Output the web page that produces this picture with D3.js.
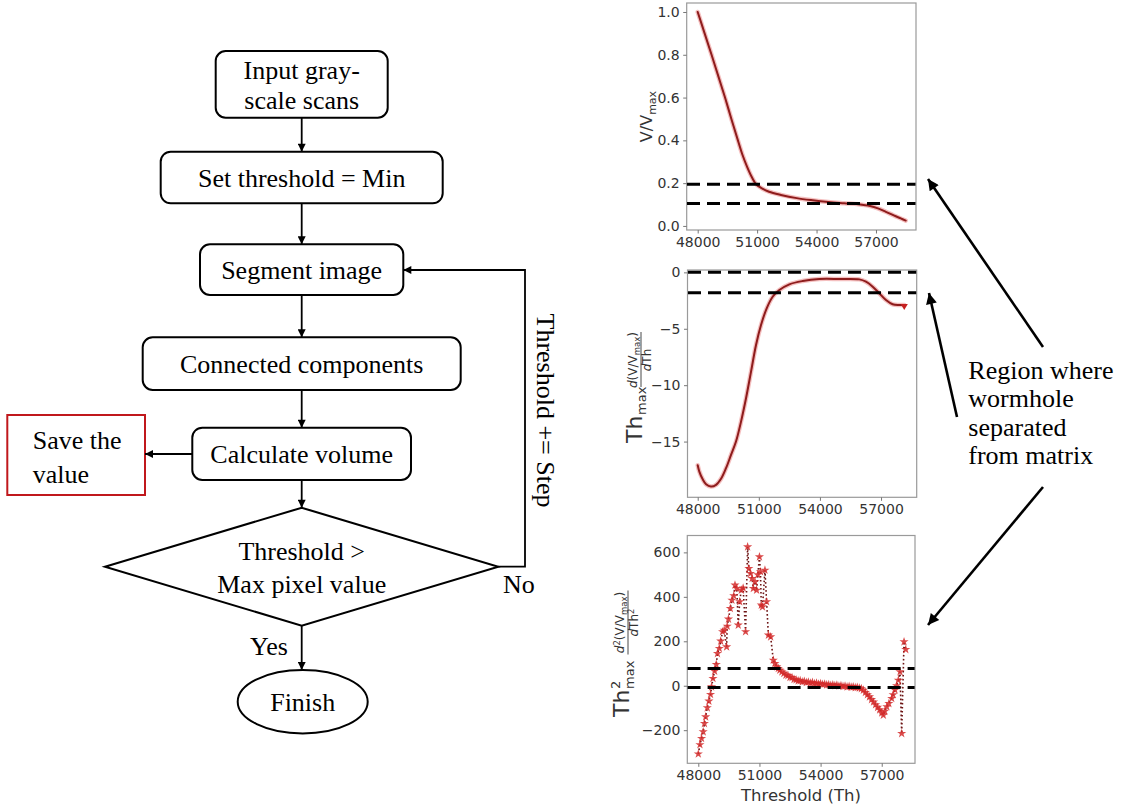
<!DOCTYPE html>
<html><head><meta charset="utf-8">
<script src="https://cdn.jsdelivr.net/npm/d3@7"></script>
<style>body{margin:0;background:#fff}</style>
</head><body>
<svg id="c" width="1125" height="809" xmlns="http://www.w3.org/2000/svg"></svg>
<script>
// ---------------- DATA ----------------
const xTicks = [48000, 51000, 54000, 57000];

// Panel 1: normalised volume V/Vmax vs threshold
const p1Threshold = [48000,48350,48700,49040,49380,49700,50030,50250,50500,50750,50950,51200,51600,52200,53000,53800,54600,55400,56100,56700,57100,57500,57900,58250,58500];
const p1Volume    = [1.0,0.90,0.80,0.70,0.60,0.50,0.40,0.335,0.275,0.225,0.195,0.178,0.16,0.145,0.13,0.12,0.112,0.106,0.101,0.093,0.082,0.066,0.049,0.035,0.025];
const p1YTicks = [0.0,0.2,0.4,0.6,0.8,1.0];
const p1Levels = [0.195, 0.105];

// Panel 2: first derivative
const p2Threshold = [48000,48080,48245,48410,48650,48900,49145,49390,49636,49880,50127,50372,50618,50863,51108,51387,51680,52008,52500,53150,53970,54950,55935,56260,56590,56916,57243,57570,57900,58140];
const p2Deriv     = [-17.1,-17.66,-18.34,-18.78,-18.99,-18.84,-18.3,-17.36,-16.18,-15.0,-13.23,-11.16,-8.8,-6.44,-4.67,-3.19,-2.16,-1.57,-1.06,-0.77,-0.59,-0.59,-0.62,-0.83,-1.27,-1.86,-2.45,-2.83,-2.89,-2.89];
const p2YTicks = [-15,-10,-5,0];
const p2Levels = [0, -1.8];

// Panel 3: second derivative
const p3Threshold = [48000,48080,48160,48240,48300,48360,48440,48520,48600,48650,48720,48800,48880,48940,49030,49100,49190,49270,49390,49420,49480,49570,49650,49740,49800,49890,49960,50030,50110,50200,50320,50420,50480,50560,50640,50700,50780,50860,50920,51000,51050,51090,51150,51270,51350,51440,51550,51680,51760,51850,51926,52000,52100,52200,52300,52400,52500,52600,52700,52800,52900,53000,53100,53200,53300,53400,53500,53600,53700,53800,53900,54000,54100,54200,54300,54400,54500,54600,54700,54800,54900,55000,55100,55200,55300,55400,55500,55600,55700,55800,55900,56000,56100,56200,56300,56400,56500,56600,56700,56800,56900,57000,57080,57150,57250,57350,57490,57560,57650,57730,57816,57898,57980,58095,58180];
const p3Deriv2    = [-307,-265,-237,-207,-170,-140,-99,-69,-39,-5,33,66,96,145,168,201,243,250,175,268,300,348,385,405,453,438,273,378,430,440,243,625,528,505,483,438,468,430,500,580,513,363,355,520,378,228,220,115,100,85,78,70,62,56,48,46,38,37,29,27,22,23,18,20,15,17,12,15,10,12,8,10,6,8,4,5,2,4,1,3,-1,1,-3,-1,-5,-3,-6,-5,-8,-7,-10,-13,-20,-30,-40,-50,-62,-73,-85,-97,-108,-122,-132,-115,-94,-80,-57,-40,-19,0,25,63,-215,198,163];
const p3YTicks = [-200,0,200,400,600];
const p3Levels = [78, -7.5];

// Flowchart text
const stepLabels = [["Input gray-","scale scans"],["Set threshold = Min"],["Segment image"],["Connected components"],["Calculate volume"]];
const decisionLabel = ["Threshold >","Max pixel value"];
const saveLabel = ["Save the","value"];
const endLabel = "Finish";
const loopLabel = "Threshold += Step";
const noteLabel = ["Region where","wormhole","separated","from matrix"];

// ---------------- DRAW ----------------
const svg = d3.select("#c");
const serif = "'Liberation Serif','Times New Roman',Times,serif";
const sans = "'DejaVu Sans',Verdana,sans-serif";

const defs = svg.append("defs");
function marker(id, w, h) {
  defs.append("marker").attr("id", id).attr("viewBox", "0 0 10 10")
    .attr("refX", 10).attr("refY", 5).attr("markerUnits", "userSpaceOnUse")
    .attr("markerWidth", w).attr("markerHeight", h).attr("orient", "auto")
    .append("path").attr("d", "M0,0 L10,5 L0,10 Z").attr("fill", "#000");
}
marker("ah", 9, 8);
marker("ahBig", 14, 11);

// ---- flowchart ----
const fc = svg.append("g");
const cx = 301.7;
const boxes = [
  {x0:215.7, x1:387.7, y0:51,    y1:117.7},
  {x0:160.7, x1:442.7, y0:151.7, y1:203.3},
  {x0:200,   x1:403.3, y0:244.3, y1:295},
  {x0:142.7, x1:460.7, y0:337.3, y1:390},
  {x0:192.3, x1:411,   y0:427.7, y1:480}
];
boxes.forEach((b, i) => {
  fc.append("rect").attr("x", b.x0).attr("y", b.y0).attr("width", b.x1 - b.x0).attr("height", b.y1 - b.y0)
    .attr("rx", 10).attr("fill", "none").attr("stroke", "#000").attr("stroke-width", 2);
  const lines = stepLabels[i];
  const mid = (b.y0 + b.y1) / 2;
  lines.forEach((t, j) => {
    fc.append("text").attr("x", (b.x0 + b.x1) / 2)
      .attr("y", mid + 9.5 + (j - (lines.length - 1) / 2) * 30.7)
      .attr("text-anchor", "middle").attr("font-family", serif).attr("font-size", 26).text(t);
  });
});
// save box
fc.append("rect").attr("x", 7.3).attr("y", 415).attr("width", 137.7).attr("height", 80)
  .attr("fill", "none").attr("stroke", "#c0181c").attr("stroke-width", 2);
saveLabel.forEach((t, j) => fc.append("text").attr("x", 32.7).attr("y", 449.3 + j * 33.4)
  .attr("font-family", serif).attr("font-size", 26).text(t));
// diamond
const dia = {l:105, r:498.3, t:507.7, b:625.7, m:566.7};
fc.append("path").attr("d", `M${dia.l},${dia.m} L${cx},${dia.t} L${dia.r},${dia.m} L${cx},${dia.b} Z`)
  .attr("fill", "none").attr("stroke", "#000").attr("stroke-width", 2);
decisionLabel.forEach((t, j) => fc.append("text").attr("x", cx).attr("y", 560 + j * 33.3)
  .attr("text-anchor", "middle").attr("font-family", serif).attr("font-size", 26).text(t));
// ellipse
fc.append("ellipse").attr("cx", 302.7).attr("cy", 701.7).attr("rx", 65).attr("ry", 31.7)
  .attr("fill", "none").attr("stroke", "#000").attr("stroke-width", 2);
fc.append("text").attr("x", 302.7).attr("y", 711).attr("text-anchor", "middle")
  .attr("font-family", serif).attr("font-size", 26).text(endLabel);
// connectors
const conn = [
  [[cx,117.7],[cx,151.7]],
  [[cx,203.3],[cx,244.3]],
  [[cx,295],[cx,337.3]],
  [[cx,390],[cx,427.7]],
  [[cx,480],[cx,507.7]],
  [[cx,625.7],[cx,670]],
  [[192.3,454],[145,454]],
  [[498.3,566.7],[525,566.7],[525,270],[403.3,270]]
];
conn.forEach(pts => fc.append("path").attr("d", d3.line()(pts)).attr("fill", "none")
  .attr("stroke", "#000").attr("stroke-width", 1.8).attr("marker-end", "url(#ah)"));
fc.append("text").attr("x", 250).attr("y", 655).attr("font-family", serif).attr("font-size", 26).text("Yes");
fc.append("text").attr("x", 503).attr("y", 593).attr("font-family", serif).attr("font-size", 26).text("No");
fc.append("text").attr("transform", "translate(537,410.5) rotate(90)").attr("text-anchor", "middle")
  .attr("font-family", serif).attr("font-size", 26).text(loopLabel);

// ---- plots ----
function panel(cfg) {
  const g = svg.append("g");
  const x = d3.scaleLinear().domain(cfg.xd).range([cfg.l, cfg.r]);
  const y = d3.scaleLinear().domain(cfg.yd).range([cfg.b, cfg.t]);
  g.append("rect").attr("x", cfg.l).attr("y", cfg.t).attr("width", cfg.r - cfg.l).attr("height", cfg.b - cfg.t)
    .attr("fill", "#fff").attr("stroke", "#9a9a9a").attr("stroke-width", 1.2);
  const ax = g.append("g").attr("transform", `translate(0,${cfg.b})`)
    .call(d3.axisBottom(x).tickValues(xTicks).tickFormat(d3.format("d")).tickSize(3.5).tickPadding(3.5));
  const ay = g.append("g").attr("transform", `translate(${cfg.l},0)`)
    .call(d3.axisLeft(y).tickValues(cfg.yTicks).tickFormat(d3.format(cfg.yfmt)).tickSize(3.5).tickPadding(3.5));
  [ax, ay].forEach(a => {
    a.select(".domain").remove();
    a.selectAll("line").attr("stroke", "#777");
    a.selectAll("text").attr("font-family", sans).attr("font-size", 14).attr("fill", "#333");
  });
  return {g, x, y};
}

const P1 = panel({l:686.7, r:916, t:3, b:230, xd:[47445, 59020], yd:[-0.019, 1.042], yTicks:p1YTicks, yfmt:".1f"});
const P2 = panel({l:687.5, r:916.7, t:270, b:497.3, xd:[47499, 58751], yd:[-19.94, 0.21], yTicks:p2YTicks, yfmt:"d"});
const P3 = panel({l:687.3, r:915, t:535.5, b:763.3, xd:[47460, 58633], yd:[-349, 676], yTicks:p3YTicks, yfmt:"d"});

function redCurve(P, xs, ys) {
  const pts = xs.map((v, i) => [P.x(v), P.y(ys[i])]);
  const line = d3.line().curve(d3.curveCatmullRom.alpha(0.5));
  P.g.append("path").attr("d", line(pts)).attr("fill", "none").attr("stroke", "#e04848")
    .attr("stroke-width", 4.5).attr("stroke-opacity", 0.35).attr("stroke-linecap", "round");
  P.g.append("path").attr("d", line(pts)).attr("fill", "none").attr("stroke", "#8e1c1c")
    .attr("stroke-width", 2).attr("stroke-linecap", "round");
  return pts;
}
function dashed(P, levels, l, r) {
  levels.forEach(v => P.g.append("line").attr("x1", l).attr("x2", r).attr("y1", P.y(v)).attr("y2", P.y(v))
    .attr("stroke", "#000").attr("stroke-width", 3).attr("stroke-dasharray", "13,7"));
}

redCurve(P1, p1Threshold, p1Volume);
dashed(P1, p1Levels, 687, 915.5);

const p2pts = redCurve(P2, p2Threshold, p2Deriv);
P2.g.append("path").attr("transform", `translate(${p2pts[p2pts.length-1][0]},${p2pts[p2pts.length-1][1]+1}) rotate(180)`)
  .attr("d", d3.symbol(d3.symbolTriangle, 22)()).attr("fill", "#c62020");
dashed(P2, p2Levels, 688, 916.2);

// panel 3 : stars with dotted line
const p3pts = p3Threshold.map((v, i) => [P3.x(v), P3.y(p3Deriv2[i])]);
P3.g.append("path").attr("d", d3.line()(p3pts)).attr("fill", "none").attr("stroke", "#6d1414")
  .attr("stroke-width", 1.6).attr("stroke-dasharray", "1.6,2.4");
P3.g.selectAll(".st").data(p3pts).join("path")
  .attr("transform", d => `translate(${d[0]},${d[1]})`)
  .attr("d", d3.symbol(d3.symbolStar, 26)()).attr("fill", "#d42a2a").attr("fill-opacity", 0.85);
dashed(P3, p3Levels, 687.6, 914.6);

// x label panel 3
svg.append("text").attr("x", 801).attr("y", 801).attr("text-anchor", "middle")
  .attr("font-family", sans).attr("font-size", 16.5).attr("fill", "#333").text("Threshold (Th)");

// y labels
function txt(g, x, y, s, fs, anchor) {
  return g.append("text").attr("x", x).attr("y", y).attr("font-family", sans).attr("font-size", fs)
    .attr("fill", "#333").attr("text-anchor", anchor || "start").text(s);
}
// panel 1
{
  const g = svg.append("g").attr("transform", "translate(651.5,116.5) rotate(-90)");
  const t = g.append("text").attr("text-anchor", "middle").attr("font-family", sans).attr("font-size", 16).attr("fill", "#333");
  t.append("tspan").text("V/V");
  t.append("tspan").attr("dy", 4).attr("font-size", 11).text("max");
}
// panel 2
{
  const g = svg.append("g").attr("transform", "translate(642,384) rotate(-90)");
  txt(g, -59, 0, "Th", 22);
  txt(g, -31, 4, "max", 13);
  const num = g.append("text").attr("x", 24).attr("y", -5).attr("text-anchor", "middle")
    .attr("font-family", sans).attr("font-size", 12).attr("fill", "#333");
  num.append("tspan").attr("font-style", "italic").text("d");
  num.append("tspan").text("(V/V");
  num.append("tspan").attr("dy", 2.5).attr("font-size", 8.5).text("max");
  num.append("tspan").attr("dy", -2.5).text(")");
  g.append("line").attr("x1", -3).attr("x2", 52).attr("y1", -1).attr("y2", -1).attr("stroke", "#333").attr("stroke-width", 0.9);
  const den = g.append("text").attr("x", 24).attr("y", 9).attr("text-anchor", "middle")
    .attr("font-family", sans).attr("font-size", 12).attr("fill", "#333");
  den.append("tspan").attr("font-style", "italic").text("d");
  den.append("tspan").text("Th");
}
// panel 3
{
  const g = svg.append("g").attr("transform", "translate(629,653.5) rotate(-90)");
  txt(g, -63.5, 0, "Th", 22);
  txt(g, -35.5, -9, "2", 13);
  txt(g, -35.5, 5, "max", 13);
  const num = g.append("text").attr("x", 31).attr("y", -5).attr("text-anchor", "middle")
    .attr("font-family", sans).attr("font-size", 12).attr("fill", "#333");
  num.append("tspan").attr("font-style", "italic").text("d");
  num.append("tspan").attr("dy", -4).attr("font-size", 8.5).text("2");
  num.append("tspan").attr("dy", 4).text("(V/V");
  num.append("tspan").attr("dy", 2.5).attr("font-size", 8.5).text("max");
  num.append("tspan").attr("dy", -2.5).text(")");
  g.append("line").attr("x1", -1).attr("x2", 63).attr("y1", -1).attr("y2", -1).attr("stroke", "#333").attr("stroke-width", 0.9);
  const den = g.append("text").attr("x", 31).attr("y", 9).attr("text-anchor", "middle")
    .attr("font-family", sans).attr("font-size", 12).attr("fill", "#333");
  den.append("tspan").attr("font-style", "italic").text("d");
  den.append("tspan").text("Th");
  den.append("tspan").attr("dy", -4).attr("font-size", 8.5).text("2");
}

// ---- annotation ----
noteLabel.forEach((t, j) => svg.append("text").attr("x", 968.3).attr("y", 379 + j * 28.3)
  .attr("font-family", serif).attr("font-size", 26).text(t));
[[[1043,347],[928,179]], [[957,417],[929,293]], [[1043,487],[928,625]]].forEach(pts =>
  svg.append("path").attr("d", d3.line()(pts)).attr("stroke", "#000").attr("stroke-width", 2.6)
    .attr("fill", "none").attr("marker-end", "url(#ahBig)"));
</script>
</body></html>
